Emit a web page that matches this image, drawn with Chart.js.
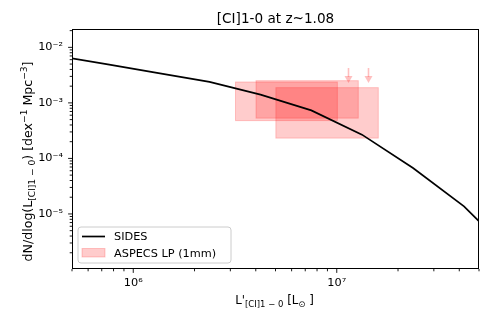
<!DOCTYPE html>
<html>
<head>
<meta charset="utf-8">
<script src="https://cdn.jsdelivr.net/npm/chart.js@4.4.0/dist/chart.umd.min.js"></script>
<style>
  html, body { margin: 0; padding: 0; background: #fff; }
</style>
</head>
<body>
<canvas id="myChart" width="491" height="327"></canvas>
<script>
// SIDES luminosity function ([CI]1-0 at z~1.08)
const sidesL = [4.22e5, 7.5e5, 1.33e6, 2.37e6, 4.22e6, 7.5e6, 1.33e7, 2.37e7, 4.22e7, 7.5e7];
const sidesPhi = [7.06e-3, 4.92e-3, 3.43e-3, 2.39e-3, 1.41e-3, 7.33e-4, 2.68e-4, 6.73e-5, 1.37e-5, 1.70e-6];

// ASPECS LP (1mm) boxes
const aspecsLmin = [3.18e6, 4.01e6, 5.02e6];
const aspecsLmax = [1.007e7, 1.276e7, 1.60e7];
const aspecsPhiLow = [4.79e-4, 5.31e-4, 2.32e-4];
const aspecsPhiHigh = [2.38e-3, 2.51e-3, 1.88e-3];

// ASPECS upper limits (arrows)
const limitL = [1.13e7, 1.42e7];
const limitTop = [4.25e-3, 4.25e-3];
const limitTip = [2.29e-3, 2.29e-3];

// axes
const xMin = 5e5, xMax = 5e7;
const yMin = 1.02e-6, yMax = 2.14e-2;
const titleText = '[CI]1-0 at z~1.08';
const aspecsLabel = 'ASPECS LP (1mm)';

const FONT = 'DejaVu Sans';
const FS = 11.3;
const boxColor = 'rgba(255,0,0,0.2)';

Chart.defaults.font.family = FONT;

const supDigits = { '-': '\u207B', '0': '\u2070', '1': '\u00B9', '2': '\u00B2', '3': '\u00B3', '4': '\u2074', '5': '\u2075', '6': '\u2076', '7': '\u2077', '8': '\u2078', '9': '\u2079' };

function powLabel(v) {
    const e = Math.round(Math.log10(v));
    if (Math.abs(Math.log10(v) - e) > 1e-6) return '';
    return '10' + String(e).split('').map(c => supDigits[c]).join('');
}

function logTicks(min, max) {
    const ticks = [];
    for (let e = Math.floor(Math.log10(min)); e <= Math.ceil(Math.log10(max)); e++) {
        for (let m = 1; m < 10; m++) {
            const v = m * Math.pow(10, e);
            if (v >= min * 0.9999 && v <= max * 1.0001) ticks.push({ value: v });
        }
    }
    return ticks;
}

// texte avec indices / exposants
function drawRich(ctx, parts, x, y, size) {
    const fontFor = p => (p.k === 'n' ? size : size * 0.72) + 'px "' + FONT + '"';
    const w = parts.map(p => {
        ctx.font = fontFor(p);
        return ctx.measureText(p.t).width;
    });
    const total = w.reduce((a, b) => a + b, 0);
    let cx = x - total / 2;
    ctx.textAlign = 'left';
    ctx.textBaseline = 'alphabetic';
    parts.forEach((p, i) => {
        ctx.font = fontFor(p);
        const dy = p.k === 'sub' ? size * 0.22 : (p.k === 'sup' ? -size * 0.42 : 0);
        ctx.fillText(p.t, cx, y + dy);
        cx += w[i];
    });
}

const decor = {
    id: 'decor',
    beforeDatasetsDraw(chart) {
        const { ctx, chartArea: a, scales: { x, y } } = chart;
        ctx.save();
        ctx.beginPath();
        ctx.rect(a.left, a.top, a.right - a.left, a.bottom - a.top);
        ctx.clip();
        for (let i = 0; i < aspecsLmin.length; i++) {
            const x0 = x.getPixelForValue(aspecsLmin[i]);
            const x1 = x.getPixelForValue(aspecsLmax[i]);
            const y0 = y.getPixelForValue(aspecsPhiHigh[i]);
            const y1 = y.getPixelForValue(aspecsPhiLow[i]);
            ctx.fillStyle = boxColor;
            ctx.fillRect(x0, y0, x1 - x0, y1 - y0);
            ctx.strokeStyle = boxColor;
            ctx.lineWidth = 1;
            ctx.strokeRect(x0, y0, x1 - x0, y1 - y0);
        }
        ctx.restore();
    },
    afterDatasetsDraw(chart) {
        const { ctx, chartArea: a, scales: { x, y } } = chart;
        ctx.save();

        // fleches (limites)
        const arrowColor = 'rgba(255,0,0,0.25)';
        for (let i = 0; i < limitL.length; i++) {
            const px = Math.round(x.getPixelForValue(limitL[i])) + 0.5;
            const yt = y.getPixelForValue(limitTop[i]);
            const yb = y.getPixelForValue(limitTip[i]);
            ctx.strokeStyle = arrowColor;
            ctx.lineWidth = 1.6;
            ctx.beginPath();
            ctx.moveTo(px, yt);
            ctx.lineTo(px, yb - 6);
            ctx.stroke();
            ctx.fillStyle = arrowColor;
            ctx.beginPath();
            ctx.moveTo(px - 4, yb - 7);
            ctx.lineTo(px + 4, yb - 7);
            ctx.lineTo(px, yb);
            ctx.closePath();
            ctx.fill();
        }

        // cadre
        ctx.strokeStyle = '#000';
        ctx.lineWidth = 1;
        ctx.strokeRect(a.left + 0.5, a.top + 0.5, a.right - a.left - 1, a.bottom - a.top - 1);

        // graduations
        ctx.lineWidth = 0.9;
        x.ticks.forEach(t => {
            const px = x.getPixelForValue(t.value);
            const len = powLabel(t.value) ? 3.9 : 2.3;
            ctx.beginPath();
            ctx.moveTo(px, a.bottom);
            ctx.lineTo(px, a.bottom + len);
            ctx.stroke();
        });
        y.ticks.forEach(t => {
            const py = y.getPixelForValue(t.value);
            const len = powLabel(t.value) ? 3.9 : 2.3;
            ctx.beginPath();
            ctx.moveTo(a.left, py);
            ctx.lineTo(a.left - len, py);
            ctx.stroke();
        });

        // legende
        ctx.fillStyle = 'rgba(255,255,255,0.8)';
        ctx.strokeStyle = '#cccccc';
        ctx.lineWidth = 1;
        ctx.beginPath();
        ctx.roundRect(78, 227, 153, 36, 3);
        ctx.fill();
        ctx.stroke();
        ctx.strokeStyle = '#000';
        ctx.lineWidth = 1.7;
        ctx.beginPath();
        ctx.moveTo(82, 236.5);
        ctx.lineTo(105, 236.5);
        ctx.stroke();
        ctx.fillStyle = boxColor;
        ctx.fillRect(82, 248.5, 23, 8.5);
        ctx.strokeStyle = boxColor;
        ctx.lineWidth = 1;
        ctx.strokeRect(82, 248.5, 23, 8.5);
        ctx.fillStyle = '#000';
        ctx.font = FS + 'px "' + FONT + '"';
        ctx.textAlign = 'left';
        ctx.textBaseline = 'middle';
        ctx.fillText(chart.data.datasets[0].label, 114, 237);
        ctx.fillText(aspecsLabel, 114, 254);

        // titre
        ctx.font = '13.6px "' + FONT + '"';
        ctx.textAlign = 'center';
        ctx.textBaseline = 'alphabetic';
        ctx.fillText(titleText, (a.left + a.right) / 2, 22.5);

        // titres des axes
        drawRich(ctx, [
            { t: "L'", k: 'n' }, { t: '[CI]1 \u2212 0', k: 'sub' },
            { t: ' [L', k: 'n' }, { t: '\u2299', k: 'sub' }, { t: ' ]', k: 'n' }
        ], (a.left + a.right) / 2 - 1, 304, 11.8);

        ctx.translate(32, 161.5);
        ctx.rotate(-Math.PI / 2);
        drawRich(ctx, [
            { t: 'dN/dlog(L', k: 'n' }, { t: '[CI]1 \u2212 0', k: 'sub' },
            { t: ') [dex', k: 'n' }, { t: '\u22121', k: 'sup' },
            { t: ' Mpc', k: 'n' }, { t: '\u22123', k: 'sup' }, { t: ']', k: 'n' }
        ], 0, 0, 12.6);
        ctx.restore();
    }
};

const ctx = document.getElementById('myChart').getContext('2d');
const myChart = new Chart(ctx, {
    type: 'line',
    data: {
        datasets: [{
            label: 'SIDES',
            data: sidesL.map((v, i) => ({ x: v, y: sidesPhi[i] })),
            borderColor: '#000',
            borderWidth: 1.7,
            pointRadius: 0,
            fill: false,
            tension: 0
        }]
    },
    options: {
        responsive: false,
        animation: false,
        devicePixelRatio: 1,
        layout: { padding: { top: 29, right: 12, left: 0, bottom: 0 } },
        plugins: {
            legend: { display: false },
            title: { display: false },
            tooltip: { enabled: false }
        },
        scales: {
            x: {
                type: 'logarithmic',
                min: xMin,
                max: xMax,
                grid: { display: false, drawTicks: false },
                border: { display: false },
                afterBuildTicks: s => { s.ticks = logTicks(xMin, xMax); },
                afterFit: s => { s.height = 58; },
                ticks: {
                    autoSkip: false,
                    maxRotation: 0,
                    padding: 7,
                    color: '#000',
                    font: { size: FS },
                    callback: v => powLabel(v)
                }
            },
            y: {
                type: 'logarithmic',
                min: yMin,
                max: yMax,
                grid: { display: false, drawTicks: false },
                border: { display: false },
                afterBuildTicks: s => { s.ticks = logTicks(yMin, yMax); },
                afterFit: s => { s.width = 72; },
                ticks: {
                    autoSkip: false,
                    padding: 9,
                    color: '#000',
                    font: { size: FS },
                    callback: v => powLabel(v)
                }
            }
        }
    },
    plugins: [decor]
});
</script>
</body>
</html>
